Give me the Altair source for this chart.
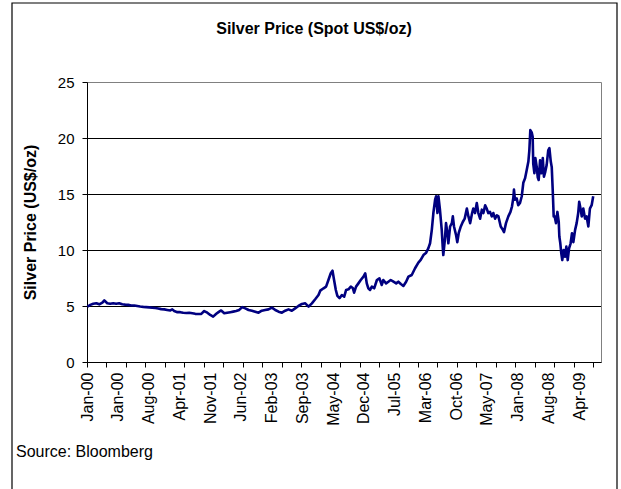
import altair as alt
import pandas as pd

# ---------------- data ----------------
title_text = "Silver Price (Spot US$/oz)"
y_title = "Silver Price (US$/oz)"
source_text = "Source: Bloomberg"

tick_labels = ["Jan-00", "Jan-00", "Aug-00", "Apr-01", "Nov-01", "Jun-02", "Feb-03",
               "Sep-03", "May-04", "Dec-04", "Jul-05", "Mar-06", "Oct-06", "May-07",
               "Jan-08", "Aug-08", "Apr-09"]
label_step = 158      # category points between labels
tick_step = 100       # category points between tick marks
last_tick = 2600
n_slots = 2640        # number of category slots on the axis
y_ticks = [0, 5, 10, 15, 20, 25]
grid_vals = [5, 10, 15, 20]

day_index = [
    2, 17, 32, 48, 63, 79, 89, 104, 119, 135, 150, 165, 181, 196, 212, 227, 243, 258,
    273, 289, 304, 320, 335, 351, 366, 381, 397, 412, 428, 438, 448, 464, 479, 494,
    510, 525, 541, 556, 571, 587, 602, 618, 633, 648, 664, 679, 689, 705, 720, 736,
    751, 766, 782, 797,
    813, 830, 847, 864, 881, 898, 915, 932, 950, 967, 984, 1001, 1018, 1035, 1052,
    1069, 1086, 1104, 1121, 1138, 1155, 1172, 1189, 1198, 1215, 1228, 1240, 1252,
    1261, 1269, 1278, 1286, 1297, 1309, 1321, 1331, 1343, 1355,
    1365, 1372, 1382, 1394, 1406, 1420, 1429, 1437, 1445, 1454, 1463, 1475, 1489,
    1502, 1514, 1522, 1536, 1548, 1560, 1574, 1588, 1599, 1612, 1625, 1639, 1651,
    1668, 1685, 1702, 1714, 1728, 1742, 1753, 1762, 1771, 1779, 1788, 1793, 1800,
    1805, 1813, 1822, 1827, 1830, 1838, 1844, 1851, 1856, 1865, 1874, 1879, 1885,
    1896, 1902, 1909, 1920, 1930, 1940, 1951, 1959, 1968, 1978, 1984, 1993, 2002,
    2010, 2019, 2028, 2036, 2045, 2053, 2061, 2070, 2079, 2087, 2096, 2105, 2113,
    2125, 2136, 2142, 2152, 2164, 2175, 2183, 2190, 2193, 2198, 2207, 2215, 2224,
    2233, 2241, 2250, 2258, 2267, 2272, 2277, 2284, 2289, 2292, 2298, 2303, 2310,
    2315, 2320, 2327, 2334, 2341, 2347, 2354, 2361, 2369, 2375, 2382, 2387, 2392,
    2397, 2402, 2409, 2416, 2423, 2426, 2431, 2436, 2441, 2448, 2455, 2462, 2469,
    2476, 2484, 2491, 2498, 2507, 2515, 2523, 2528, 2536, 2541, 2549, 2558, 2566,
    2575, 2583, 2592, 2600,
]
price = [
    4.95, 5.1, 5.2, 5.25, 5.15, 5.3, 5.5, 5.25, 5.2, 5.25, 5.2, 5.25, 5.15, 5.12, 5.1,
    5.05, 5.05, 5.0, 4.95, 4.92, 4.9, 4.88, 4.85, 4.82, 4.78, 4.72, 4.7, 4.65, 4.6,
    4.7, 4.55, 4.45, 4.45, 4.4, 4.38, 4.4, 4.35, 4.3, 4.28, 4.3, 4.55, 4.4, 4.2, 4.05,
    4.3, 4.5, 4.6, 4.35, 4.4, 4.45, 4.5, 4.55, 4.65, 4.9,
    4.79, 4.64, 4.58, 4.49, 4.4, 4.58, 4.64, 4.7, 4.85, 4.64, 4.49, 4.4, 4.58, 4.7,
    4.58, 4.79, 5.0, 5.18, 5.24, 4.94, 5.24, 5.6, 5.98, 6.37, 6.58, 6.73, 7.32, 7.92,
    8.15, 7.32, 6.43, 5.9, 5.7, 5.98, 5.83, 6.43, 6.49, 6.73,
    6.61, 6.19, 6.73, 7.02, 7.32, 7.62, 7.92, 7.02, 6.58, 6.43, 6.73, 6.58, 7.32,
    7.47, 6.88, 7.32, 7.02, 7.17, 7.32, 7.17, 7.02, 7.17, 6.96, 6.79, 7.17, 7.62,
    7.77, 8.37, 8.87, 9.11, 9.55, 9.76, 10.15, 10.6, 11.8, 13.3, 14.5, 14.8, 13.3,
    14.8, 13.57, 11.8, 10.3, 9.55, 10.9, 12.4, 11.5, 10.6, 12.1, 12.4, 13.0, 12.1,
    11.3, 10.7, 11.5, 12.1, 12.5, 12.8, 13.7, 13.0, 12.4, 13.3, 13.7, 13.3, 14.2,
    13.3, 12.8, 13.6, 13.3, 14.0, 13.7, 13.3, 13.4, 13.0, 13.3, 12.8, 13.1, 13.0,
    12.1, 11.8, 11.6, 12.4, 13.0, 13.4, 13.9, 14.7, 15.4, 14.5, 14.6, 14.0, 14.2,
    14.8, 16.0, 16.4, 17.1, 17.9, 18.9, 20.7, 20.5, 20.1, 17.7, 16.85, 18.2, 17.4,
    16.5, 16.25, 18.0, 16.85, 18.2, 16.55, 17.0, 17.6, 18.9, 19.1, 17.9, 17.4, 15.36,
    13.0, 13.0, 12.4, 13.4, 12.5, 11.2, 10.6, 9.7, 9.1, 10.0, 9.4, 10.3, 9.1,
    10.15, 10.6, 11.5, 10.7, 11.8, 12.4, 13.3, 14.3, 13.6, 13.0, 13.7, 12.8, 13.0,
    12.1, 13.7, 14.0, 14.8,
]

# ---------------- chart ----------------
FONT = "Liberation Sans"
W, H = 514, 280

df = pd.DataFrame({"day": day_index, "price": price})
label_pos = [i * label_step for i in range(len(tick_labels))]
tick_pos = list(range(0, last_tick + 1, tick_step))
label_expr = "[" + ",".join("'%s'" % s for s in tick_labels) + "][round(datum.value/%d)]" % label_step

xscale = alt.Scale(domain=[0, n_slots], nice=False, zero=False)
yscale = alt.Scale(domain=[0, 25], nice=False, zero=True)

y_axis = alt.Axis(values=y_ticks, grid=False, domain=True, domainColor="black",
                  ticks=True, tickColor="black", tickSize=5, labelFontSize=15,
                  labelPadding=8, title=y_title, titleFontSize=16,
                  titleFontWeight="bold", titleX=-57, titleBaseline="middle")

border = alt.Chart(pd.DataFrame({"a": [0]})).mark_rect(
    fillOpacity=0, stroke="black", strokeWidth=1.2, clip=False
).encode(x=alt.value(-75), x2=alt.value(530), y=alt.value(-79), y2=alt.value(440))

grid = alt.Chart(pd.DataFrame({"g": grid_vals})).mark_rule(
    color="black", strokeWidth=1, yOffset=0.5
).encode(y=alt.Y("g:Q", scale=yscale, axis=y_axis, title=y_title))

line = alt.Chart(df).mark_line(color="#000080", strokeWidth=2.6, strokeJoin="round").encode(
    x=alt.X("day:Q", scale=xscale,
            axis=alt.Axis(orient="bottom", values=label_pos, labelExpr=label_expr,
                          ticks=False, tickSize=0, domain=False, grid=False,
                          labelAngle=-90, labelAlign="right", labelBaseline="middle",
                          labelPadding=10, labelFontSize=16, labelOverlap=False,
                          labelBound=False, labelFlush=False, title=None)),
    y=alt.Y("price:Q", scale=yscale, axis=y_axis, title=y_title),
)

ticks = alt.Chart(pd.DataFrame({"t": tick_pos})).mark_point(opacity=0).encode(
    x=alt.X("t:Q", scale=xscale,
            axis=alt.Axis(orient="bottom", values=tick_pos, labels=False, ticks=True,
                          tickSize=5, tickColor="black", domain=True,
                          domainColor="black", grid=False, title=None)),
)

title_mark = alt.Chart(pd.DataFrame({"t": [title_text]})).mark_text(
    font=FONT, fontSize=16, fontWeight="bold", align="center", baseline="middle", color="black"
).encode(x=alt.value(227), y=alt.value(-53), text="t:N")

source_mark = alt.Chart(pd.DataFrame({"t": [source_text]})).mark_text(
    font=FONT, fontSize=16, align="left", baseline="middle", color="black"
).encode(x=alt.value(-71), y=alt.value(370), text="t:N")

chart = alt.layer(border, grid, line, ticks, title_mark, source_mark).resolve_axis(
    x="independent"
).properties(
    width=W, height=H,
    autosize=alt.AutoSizeParams(type="none"),
    padding={"left": 87, "top": 82, "right": 20, "bottom": 127},
    background="white",
).configure_view(
    stroke="#808080", strokeWidth=1
).configure_axis(
    labelFont=FONT, titleFont=FONT, labelColor="black", titleColor="black"
)

chart.save("out.html", embed_options={"renderer": "svg", "actions": False})
